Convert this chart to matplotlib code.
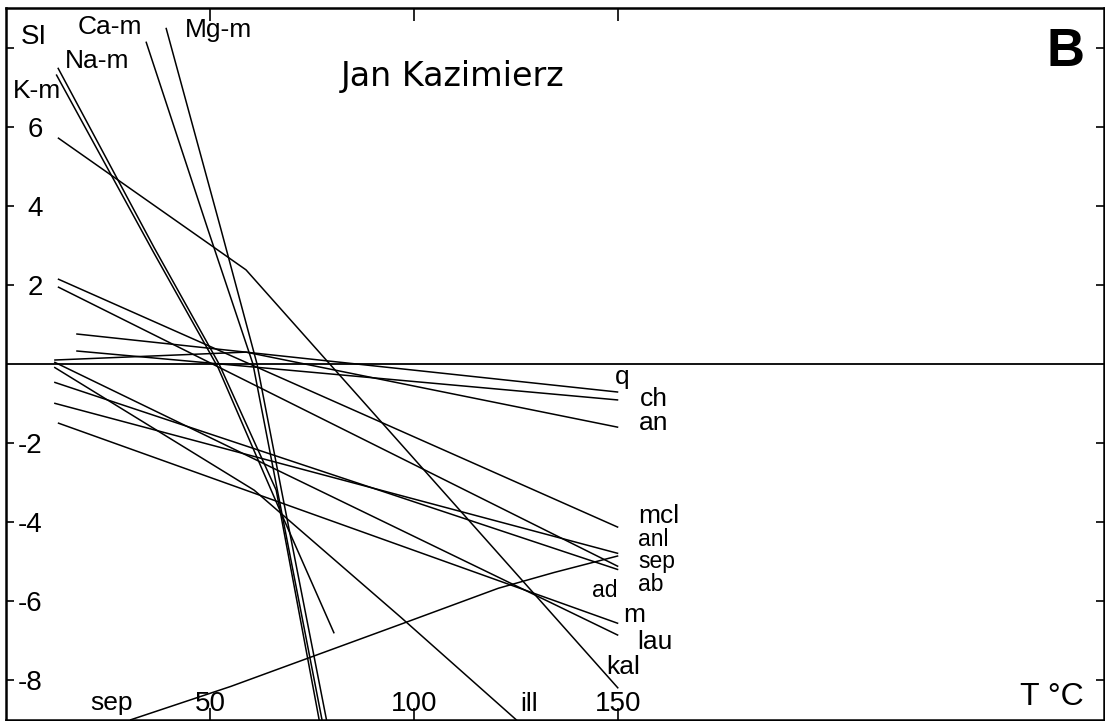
import matplotlib
matplotlib.use("Agg")
import matplotlib.pyplot as plt

# ---- data (T in deg C, SI) ----
kal_T = [12.7, 58.8, 150]
kal_SI = [5.72, 2.38, -8.2]
Km_T = [12.7, 36.3, 52.2, 66.2, 76.8]
Km_SI = [7.49, 2.94, 0.0, -3.19, -9.04]
Nam_T = [12.3, 36.0, 52.0, 67.4, 80.4]
Nam_SI = [7.32, 2.85, -0.1, -3.77, -6.81]
Cam_T = [34.3, 49.5, 60.5, 66.5, 77.5]
Cam_SI = [8.15, 3.39, 0.0, -3.2, -9.04]
Mgm_T = [39.2, 52.7, 61.5, 67.5, 78.6]
Mgm_SI = [8.5, 3.39, 0.0, -3.2, -9.04]
q_T = [17.2, 150]
q_SI = [0.76, -0.71]
ch_T = [17.2, 150]
ch_SI = [0.33, -0.91]
an_T = [11.8, 58.8, 150]
an_SI = [0.10, 0.30, -1.6]
mcl_T = [12.7, 150]
mcl_SI = [2.15, -4.13]
ad_T = [12.7, 150]
ad_SI = [1.95, -5.12]
ab_T = [11.8, 150]
ab_SI = [-0.46, -5.2]
anl_T = [11.8, 150]
anl_SI = [-0.99, -4.79]
m_T = [12.7, 150]
m_SI = [-1.49, -6.56]
lau_T = [11.8, 150]
lau_SI = [0.05, -6.86]
ill_T = [11.8, 60.8, 96.8, 125.5]
ill_SI = [-0.08, -3.19, -6.41, -9.04]
sep_T = [30.4, 55.1, 98.0, 120.6, 134.3, 150]
sep_SI = [-9.0, -8.15, -6.53, -5.67, -5.27, -4.85]

series = [kal_T, kal_SI, Km_T, Km_SI, Nam_T, Nam_SI, Cam_T, Cam_SI, Mgm_T, Mgm_SI,
          q_T, q_SI, ch_T, ch_SI, an_T, an_SI, mcl_T, mcl_SI, ad_T, ad_SI,
          ab_T, ab_SI, anl_T, anl_SI, m_T, m_SI, lau_T, lau_SI, ill_T, ill_SI,
          sep_T, sep_SI]

x_ticks = [50, 100, 150]
x_ticklabels = ["50", "100", "150"]
y_ticks = [-8, -6, -4, -2, 2, 4, 6, 8]
y_ticklabels = ["-8", "-6", "-4", "-2", "2", "4", "6", ""]

plt.rcParams['font.family'] = ['Liberation Sans', 'DejaVu Sans']

fig = plt.figure(figsize=(11.05, 7.21), dpi=100)
ax = fig.add_axes([6/1105, 1/721, 1098/1105, 712/721])
ax.set_xlim(0, 269)
ax.set_ylim(-9, 9)

pairs = [(series[i], series[i + 1]) for i in range(0, len(series), 2)]
for T, SI in pairs:
    ax.plot(T, SI, color='black', lw=1.1, solid_capstyle='butt')

ax.axhline(0, color='black', lw=1.3)

for s in ax.spines.values():
    s.set_linewidth(1.8)

ax.set_xticks(x_ticks)
ax.set_xticklabels(x_ticklabels)
ax.set_yticks(y_ticks)
ax.set_yticklabels(y_ticklabels)
ax.tick_params(axis='x', direction='in', length=9, width=1.2, pad=-21,
               labelsize=20, top=True)
ax.tick_params(axis='y', direction='in', length=6, width=1.2, pad=-26.5,
               labelsize=20, right=True)
for lab in ax.get_yticklabels():
    lab.set_horizontalalignment('right')

def px(x, y, s, **kw):
    ax.text((x - 5) / 4.08, (364 - y) / 39.5, s, ha='center', va='center', **kw)

fs = 19
fs2 = 16.5
px(33, 37, "SI", fontsize=20)
px(109, 27, "Ca-m", fontsize=fs)
px(217, 30, "Mg-m", fontsize=fs)
px(96, 61, "Na-m", fontsize=fs)
px(36, 91, "K-m", fontsize=fs)
px(451, 77, "Jan Kazimierz", fontsize=24, family=['DejaVu Sans'])
px(1064, 52, "B", fontsize=38, fontweight='bold')
px(621, 377, "q", fontsize=fs)
px(653, 399, "ch", fontsize=fs)
px(652, 423, "an", fontsize=fs)
px(657, 516, "mcl", fontsize=fs)
px(652, 539, "anl", fontsize=fs2)
px(656, 561, "sep", fontsize=fs2)
px(649, 584, "ab", fontsize=fs2)
px(603, 590, "ad", fontsize=fs2)
px(633, 615, "m", fontsize=fs)
px(654, 642, "lau", fontsize=fs)
px(622, 667, "kal", fontsize=fs)
px(528, 704, "ill", fontsize=fs)
px(111, 703, "sep", fontsize=fs)
px(1050, 697, "T °C", fontsize=23)

fig.savefig("out.png", dpi=100)
